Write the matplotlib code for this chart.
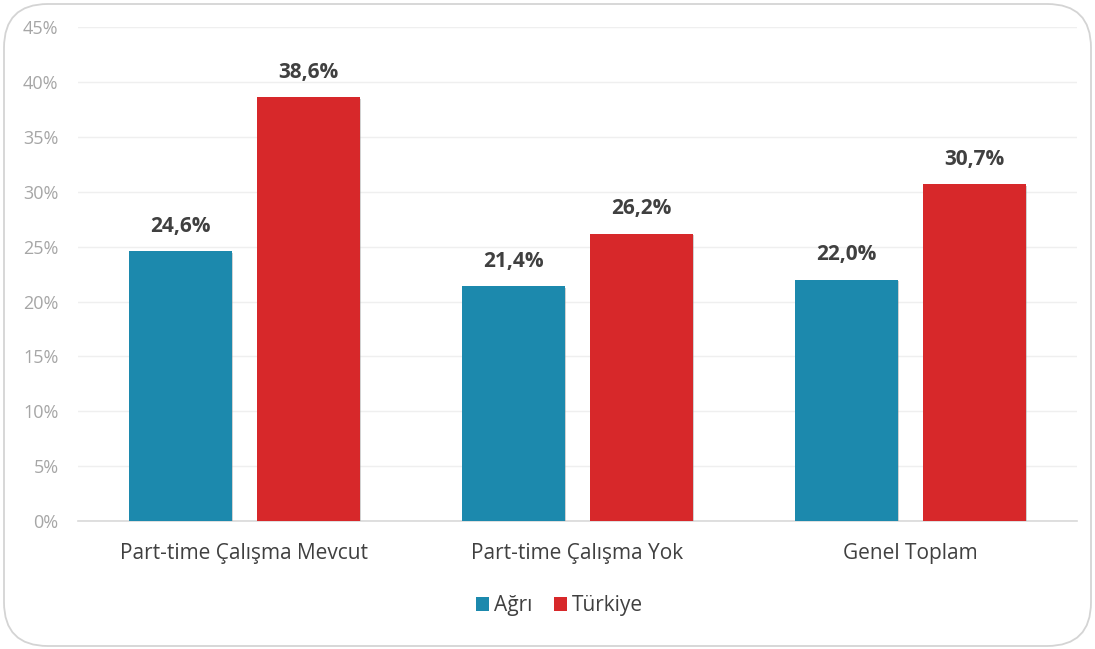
import matplotlib
matplotlib.use("Agg")
import matplotlib.pyplot as plt
import matplotlib.patheffects as pe
from matplotlib.patches import FancyBboxPatch
from matplotlib.ticker import FuncFormatter
import numpy as np

categories = ["Part-time Çalışma Mevcut", "Part-time Çalışma Yok", "Genel Toplam"]
agri = [24.6, 21.4, 22.0]
turkiye = [38.6, 26.2, 30.7]
series_names = ["Ağrı", "Türkiye"]
colors = ["#1c89ad", "#d7282a"]

plt.rcParams["font.family"] = ["Open Sans", "DejaVu Sans"]

fig = plt.figure(figsize=(10.95, 6.49), dpi=100)
ax = fig.add_axes([0.0712, 0.1972, 0.9124, 0.7608])

# rounded frame around the whole chart
W, H = 1095, 649
frame = FancyBboxPatch((4 / W, 3 / H), 1087 / W, 642 / H, boxstyle="round,pad=0,rounding_size=0.04",
                       transform=fig.transFigure, facecolor="white", edgecolor="#d4d4d4",
                       linewidth=1.3, mutation_aspect=W / H, zorder=-10)
fig.patches.append(frame)

x = np.arange(len(categories))
w = 0.31
off = 0.192
shadow = [pe.SimplePatchShadow(offset=(0.8, -1.2), shadow_rgbFace="#999999", alpha=0.45), pe.Normal()]
for vals, name, c, d in [(agri, series_names[0], colors[0], -off), (turkiye, series_names[1], colors[1], off)]:
    bars = ax.bar(x + d, vals, w, color=c, label=name, zorder=3)
    for b in bars:
        b.set_path_effects(shadow)
    for xi, v in zip(x + d, vals):
        ax.text(xi, v + 1.3, f"{v:.1f}%".replace(".", ","), ha="center", va="bottom",
                fontsize=15, fontweight="bold", color="#404040")

ax.set_xlim(-0.5, 2.5)
ax.set_ylim(0, 45)
ax.set_yticks(np.arange(0, 46, 5))
ax.yaxis.set_major_formatter(FuncFormatter(lambda v, p: f"{v:.0f}%"))
ax.set_xticks(x)
ax.set_xticklabels(categories)
ax.tick_params(axis="x", length=0, pad=16, labelsize=15, labelcolor="#404040")
ax.tick_params(axis="y", length=0, pad=14, labelsize=13, labelcolor="#a6a6a6")
ax.grid(axis="y", color="#efefef", linewidth=1, zorder=0)
for s in ["top", "right", "left"]:
    ax.spines[s].set_visible(False)
ax.spines["bottom"].set_color("#d9d9d9")
ax.spines["bottom"].set_linewidth(1.2)
ax.set_facecolor("none")

leg = ax.legend(loc="center", bbox_to_anchor=(0.511, 1 - 606 / H), bbox_transform=fig.transFigure,
                frameon=False, ncol=2, fontsize=15, handlelength=0.65, handleheight=0.65,
                handletextpad=0.25, columnspacing=1.0, labelcolor="#404040")
for h in leg.legend_handles:
    h.set_path_effects([pe.Normal()])

fig.savefig("out.png", dpi=100)
